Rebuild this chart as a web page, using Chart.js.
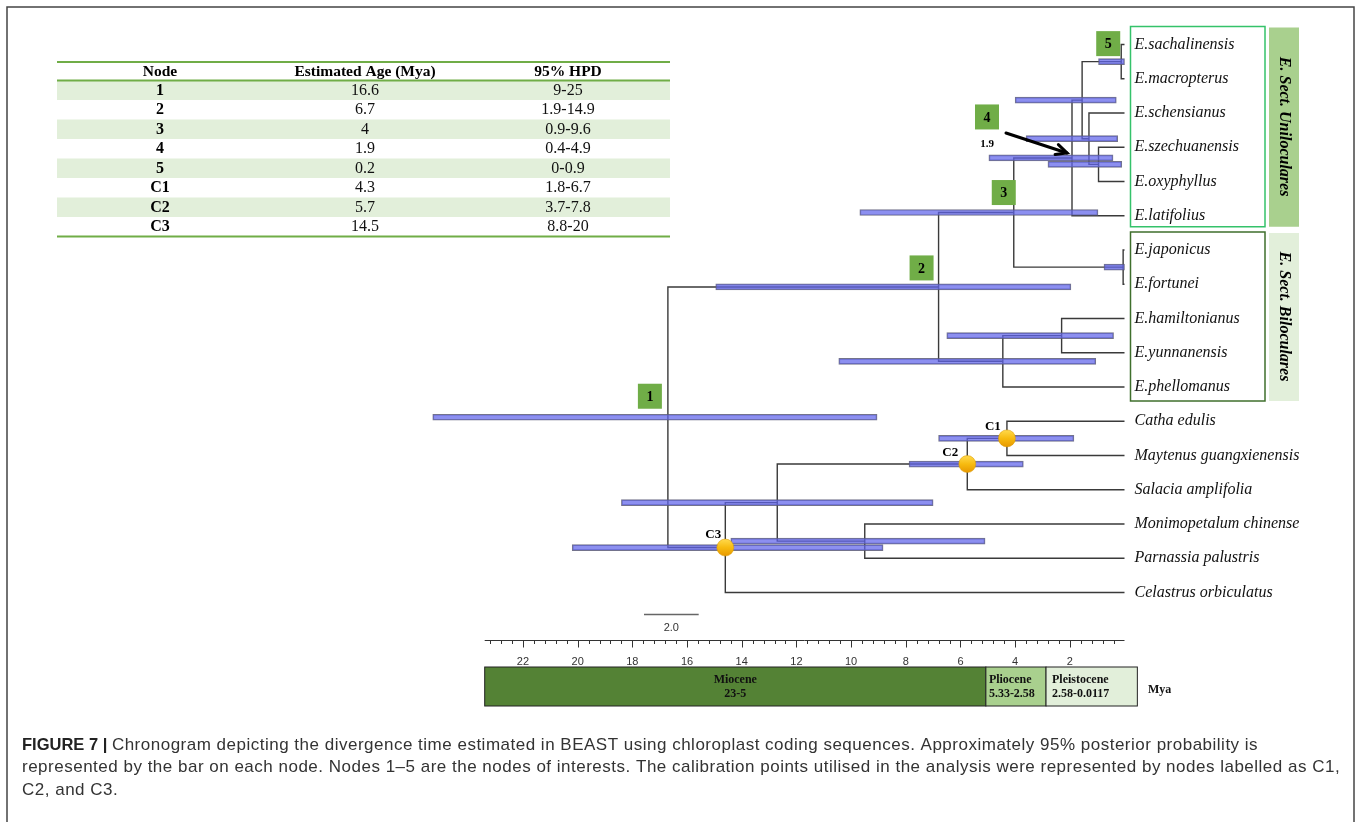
<!DOCTYPE html>
<html>
<head>
<meta charset="utf-8">
<title>Chronogram</title>
<script src="https://cdn.jsdelivr.net/npm/chart.js@4.4.1/dist/chart.umd.min.js"></script>
<style>
  body { margin: 0; background: #fff; }
  #wrap { width: 1361px; height: 822px; position: relative; }
</style>
</head>
<body>
<div id="wrap"><canvas id="tree" width="1361" height="822"></canvas></div>
<script>
// tips, top to bottom
const tipNames = ['E.sachalinensis', 'E.macropterus', 'E.schensianus', 'E.szechuanensis', 'E.oxyphyllus',
  'E.latifolius', 'E.japonicus', 'E.fortunei', 'E.hamiltonianus', 'E.yunnanensis', 'E.phellomanus',
  'Catha edulis', 'Maytenus guangxienensis', 'Salacia amplifolia', 'Monimopetalum chinense',
  'Parnassia palustris', 'Celastrus orbiculatus'];

// internal nodes (children: number = tip index, string = node name)
const nodeNames = ['5', 'd', 'c', 'b', '4', 'j', '3', 'h', 'p', '2', 'C1', 'C2', 'mp', 'm', 'C3', '1'];
const nodeChildren = [[0, 1], [3, 4], [2, 'd'], ['5', 'c'], ['b', 5], [6, 7], ['4', 'j'], [8, 9], ['h', 10],
  ['3', 'p'], [11, 12], ['C1', 13], [14, 15], ['C2', 'mp'], ['m', 16], ['2', 'C3']];
const nodeAges = [0.12, 0.95, 1.3, 1.55, 1.92, 0.05, 4.05, 2.3, 4.45, 6.8, 4.3, 5.75, 9.5, 12.7, 14.6, 16.7];
const hpdLow = [0, 0.1, 0.25, 0.3, 0.42, 0, 0.97, 0.4, 1.05, 1.96, 1.85, 3.7, 5.1, 7.0, 8.83, 9.05];
const hpdHigh = [0.95, 2.8, 3.6, 4.0, 4.96, 0.75, 9.68, 6.5, 10.45, 14.95, 6.8, 7.88, 14.4, 18.4, 20.2, 25.3];
const calibNodes = ['C1', 'C2', 'C3'];

// table of node ages
const tableHead = ['Node', 'Estimated Age (Mya)', '95% HPD'];
const tableNode = ['1', '2', '3', '4', '5', 'C1', 'C2', 'C3'];
const tableAge = ['16.6', '6.7', '4', '1.9', '0.2', '4.3', '5.7', '14.5'];
const tableHPD = ['9-25', '1.9-14.9', '0.9-9.6', '0.4-4.9', '0-0.9', '1.8-6.7', '3.7-7.8', '8.8-20'];

// time axis
const axisMax = 23.4;
const tickLabels = [22, 20, 18, 16, 14, 12, 10, 8, 6, 4, 2];
const minorStep = 0.4;
const epochNames = ['Miocene', 'Pliocene', 'Pleistocene'];
const epochSpans = ['23-5', '5.33-2.58', '2.58-0.0117'];
const epochEdges = [23.4, 5.07, 2.87, -0.47];

const groupNames = ['E. Sect. Uniloculares', 'E. Sect. Biloculares'];
const groupTips = [[0, 5], [6, 10]];

const captionLines = [
  ['FIGURE 7 | ', 'Chronogram depicting the divergence time estimated in BEAST using chloroplast coding sequences. Approximately 95% posterior probability is'],
  ['', 'represented by the bar on each node. Nodes 1\u20135 are the nodes of interests. The calibration points utilised in the analysis were represented by nodes labelled as C1,'],
  ['', 'C2, and C3.']
];

const SERIF = '"Liberation Serif", "Times New Roman", serif';
const SANS = '"Liberation Sans", Arial, sans-serif';

// node y = mean of its children
const nodeAge = {}, nodeY = {};
nodeNames.forEach((n, i) => { nodeAge[n] = nodeAges[i]; });
function yOf(c) {
  if (typeof c === 'number') return c;
  if (nodeY[c] === undefined) {
    const ch = nodeChildren[nodeNames.indexOf(c)];
    nodeY[c] = (yOf(ch[0]) + yOf(ch[1])) / 2;
  }
  return nodeY[c];
}
function ageOf(c) { return typeof c === 'number' ? 0 : nodeAge[c]; }
nodeNames.forEach(n => yOf(n));

const datasets = [];

// branches: one elbow per internal node
nodeNames.forEach((n, i) => {
  const a = nodeChildren[i][0], b = nodeChildren[i][1];
  datasets.push({
    type: 'scatter',
    showLine: true,
    data: [
      { x: ageOf(a), y: yOf(a) },
      { x: nodeAge[n], y: yOf(a) },
      { x: nodeAge[n], y: yOf(b) },
      { x: ageOf(b), y: yOf(b) }
    ],
    borderColor: '#3a3a3a',
    borderWidth: 1.4,
    pointRadius: 0,
    tension: 0,
    clip: false,
    order: 2
  });
});

// 95% HPD bars
datasets.push({
  type: 'bar',
  indexAxis: 'y',
  data: nodeNames.map((n, i) => ({ y: nodeY[n], x: [hpdLow[i], hpdHigh[i]] })),
  backgroundColor: 'rgba(96, 100, 234, 0.72)',
  borderColor: 'rgba(90, 90, 120, 0.85)',
  borderWidth: 1,
  borderSkipped: false,
  barThickness: 6,
  grouped: false,
  clip: false,
  order: 1
});

// calibration points
datasets.push({
  type: 'scatter',
  data: calibNodes.map(n => ({ x: nodeAge[n], y: nodeY[n] })),
  pointRadius: 8.5,
  pointBorderWidth: 0.5,
  pointBorderColor: '#d89600',
  pointBackgroundColor: function(c) {
    const ch = c.chart;
    if (!ch.scales || !ch.scales.y || !c.parsed) return '#f4b400';
    const py = ch.scales.y.getPixelForValue(c.parsed.y);
    if (!isFinite(py)) return '#f4b400';
    const g = ch.ctx.createLinearGradient(0, py - 8, 0, py + 8);
    g.addColorStop(0, '#ffd84a');
    g.addColorStop(0.5, '#f7bb10');
    g.addColorStop(1, '#e89a00');
    return g;
  },
  clip: false,
  order: 0
});

function txt(ctx, s, x, y, font, color, align) {
  ctx.font = font;
  ctx.fillStyle = color || '#000';
  ctx.textAlign = align || 'left';
  ctx.textBaseline = 'middle';
  ctx.fillText(s, x, y);
}

// layout bits (pixel offsets from node positions)
const nodeBoxOffset = { '1': [-18, -21], '2': [-17, -19], '3': [-10, -20], '4': [-85, -41], '5': [-13, -18] };
const calibLabelOffset = { 'C1': [-14, -12], 'C2': [-17, -11], 'C3': [-12, -13] };

function drawTable(ctx) {
  const x0 = 57, x1 = 670, cols = [160, 365, 568];
  const top = 62, headB = 80.5, rowH = 19.5;
  for (let i = 0; i < tableNode.length; i++) {
    if (i % 2 === 0) {
      ctx.fillStyle = '#e2efda';
      ctx.fillRect(x0, headB + i * rowH, x1 - x0, rowH);
    }
  }
  ctx.strokeStyle = '#70ad47';
  ctx.lineWidth = 2;
  [top, headB, headB + tableNode.length * rowH].forEach(y => {
    ctx.beginPath(); ctx.moveTo(x0, y); ctx.lineTo(x1, y); ctx.stroke();
  });
  tableHead.forEach((h, j) => txt(ctx, h, cols[j], 71.5, 'bold 15.5px ' + SERIF, '#000', 'center'));
  for (let i = 0; i < tableNode.length; i++) {
    const y = headB + i * rowH + rowH / 2 + 0.5;
    txt(ctx, tableNode[i], cols[0], y, 'bold 16px ' + SERIF, '#000', 'center');
    txt(ctx, tableAge[i], cols[1], y, '16px ' + SERIF, '#111', 'center');
    txt(ctx, tableHPD[i], cols[2], y, '16px ' + SERIF, '#111', 'center');
  }
}

const decor = {
  id: 'decor',
  afterDraw(chart) {
    const ctx = chart.ctx, xs = chart.scales.x, ys = chart.scales.y;
    const px = v => xs.getPixelForValue(v), py = v => ys.getPixelForValue(v);
    ctx.save();

    // outer frame
    ctx.strokeStyle = '#444';
    ctx.lineWidth = 1.5;
    ctx.strokeRect(7, 7, 1347, 830);

    drawTable(ctx);

    // tip labels
    tipNames.forEach((t, i) => txt(ctx, t, px(0) + 10, py(i), 'italic 16px ' + SERIF, '#111'));

    // section boxes
    const boxCol = ['#34c26a', '#3f6f2c'], barCol = ['#a9d08e', '#e2efda'];
    groupNames.forEach((g, k) => {
      const yt = py(groupTips[k][0]) - 18, yb = py(groupTips[k][1]) + (k === 0 ? 11 : 14);
      ctx.strokeStyle = boxCol[k];
      ctx.lineWidth = 1.5;
      ctx.strokeRect(1130.5, yt, 134.5, yb - yt);
      ctx.fillStyle = barCol[k];
      ctx.fillRect(1269, yt + 1, 30, yb - yt - 1);
      ctx.save();
      ctx.translate(1284, (yt + yb) / 2);
      ctx.rotate(Math.PI / 2);
      txt(ctx, g, 0, 0, 'bold italic 16px ' + SERIF, '#000', 'center');
      ctx.restore();
    });

    // node number boxes
    Object.keys(nodeBoxOffset).forEach(n => {
      const o = nodeBoxOffset[n];
      const cx = px(nodeAge[n]) + o[0], cy = py(nodeY[n]) + o[1];
      ctx.fillStyle = '#70ad47';
      ctx.fillRect(cx - 12, cy - 12.5, 24, 25);
      txt(ctx, n, cx, cy + 1, 'bold 14px ' + SERIF, '#000', 'center');
    });

    // node 4 age and arrow
    const n4x = px(nodeAge['4']), n4y = py(nodeY['4']);
    txt(ctx, '1.9', n4x - 85, n4y - 14, 'bold 11px ' + SERIF, '#000', 'center');
    const ax0 = n4x - 66, ay0 = n4y - 25, ax1 = n4x - 5, ay1 = n4y - 5;
    ctx.strokeStyle = '#000';
    ctx.lineWidth = 3;
    ctx.lineCap = 'round';
    ctx.beginPath(); ctx.moveTo(ax0, ay0); ctx.lineTo(ax1, ay1); ctx.stroke();
    const ang = Math.atan2(ay1 - ay0, ax1 - ax0);
    ctx.beginPath();
    ctx.moveTo(ax1 - 12 * Math.cos(ang - 0.45), ay1 - 12 * Math.sin(ang - 0.45));
    ctx.lineTo(ax1, ay1);
    ctx.lineTo(ax1 - 12 * Math.cos(ang + 0.45), ay1 - 12 * Math.sin(ang + 0.45));
    ctx.stroke();
    ctx.lineCap = 'butt';

    // calibration labels
    calibNodes.forEach(n => {
      const o = calibLabelOffset[n];
      txt(ctx, n, px(nodeAge[n]) + o[0], py(nodeY[n]) + o[1], 'bold 13px ' + SERIF, '#000', 'center');
    });

    // scale bar
    const sbLen = px(0) - px(2);
    ctx.strokeStyle = '#666';
    ctx.lineWidth = 1.5;
    ctx.beginPath(); ctx.moveTo(644, 614.5); ctx.lineTo(644 + sbLen, 614.5); ctx.stroke();
    txt(ctx, '2.0', 644 + sbLen / 2, 628, '11px ' + SANS, '#333', 'center');

    // time axis
    const axY = 640.5;
    ctx.strokeStyle = '#333';
    ctx.lineWidth = 1;
    ctx.beginPath(); ctx.moveTo(px(axisMax), axY); ctx.lineTo(px(0), axY); ctx.stroke();
    for (let k = 1; k * minorStep < axisMax; k++) {
      const v = k * minorStep;
      const major = Math.abs(v / 2 - Math.round(v / 2)) < 1e-6;
      const x = Math.round(px(v)) + 0.5;
      ctx.beginPath(); ctx.moveTo(x, axY); ctx.lineTo(x, axY + (major ? 7 : 3.5)); ctx.stroke();
    }
    tickLabels.forEach(v => txt(ctx, String(v), px(v), 662, '11px ' + SANS, '#333', 'center'));

    // epochs
    const eCol = ['#548235', '#a9d08e', '#e2efda'];
    const eT = 667, eB = 706;
    epochNames.forEach((e, i) => {
      const xa = px(epochEdges[i]), xb = px(epochEdges[i + 1]);
      ctx.fillStyle = eCol[i];
      ctx.fillRect(xa, eT, xb - xa, eB - eT);
      ctx.strokeStyle = '#222';
      ctx.lineWidth = 1;
      ctx.strokeRect(xa, eT, xb - xa, eB - eT);
      if (i === 0) {
        txt(ctx, e, (xa + xb) / 2, 680, 'bold 12px ' + SERIF, '#111', 'center');
        txt(ctx, epochSpans[i], (xa + xb) / 2, 694, 'bold 12px ' + SERIF, '#111', 'center');
      } else {
        txt(ctx, e, xa + (i === 1 ? 3 : 6), 680, 'bold 12px ' + SERIF, '#111');
        txt(ctx, epochSpans[i], xa + (i === 1 ? 3 : 6), 694, 'bold 12px ' + SERIF, '#111');
      }
    });
    txt(ctx, 'Mya', 1148, 690, 'bold 12px ' + SERIF, '#111');

    // caption
    captionLines.forEach((ln, i) => {
      const y = 745 + i * 22.5;
      let x = 22;
      ctx.letterSpacing = '0px';
      if (ln[0]) {
        txt(ctx, ln[0], x, y, 'bold 16.5px ' + SANS, '#222');
        x += ctx.measureText(ln[0]).width;
      }
      ctx.letterSpacing = '0.5px';
      txt(ctx, ln[1], x, y, '17px ' + SANS, '#333');
      ctx.letterSpacing = '0px';
    });

    ctx.restore();
  }
};

window.addEventListener('load', function() {
  const ctx = document.getElementById('tree').getContext('2d');
  new Chart(ctx, {
    type: 'scatter',
    data: { datasets: datasets },
    options: {
      responsive: false,
      devicePixelRatio: 1,
      animation: false,
      events: [],
      layout: { padding: { left: 484.7, right: 236.5, top: 44.5, bottom: 229.5 } },
      scales: {
        x: { type: 'linear', reverse: true, min: 0, max: axisMax, display: false, offset: false },
        y: { type: 'linear', reverse: true, min: 0, max: 16, display: false, offset: false }
      },
      plugins: { legend: { display: false }, tooltip: { enabled: false } }
    },
    plugins: [decor]
  });
});
</script>
</body>
</html>
